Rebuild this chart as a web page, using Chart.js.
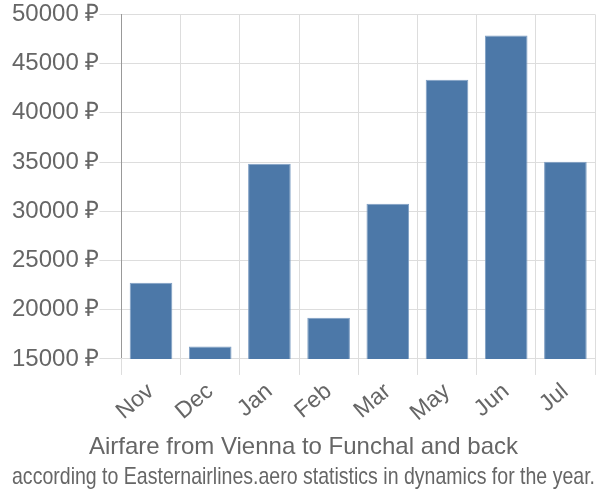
<!DOCTYPE html>
<html>
<head>
<meta charset="utf-8">
<script src="https://cdn.jsdelivr.net/npm/chart.js@4"></script>
<style>
  body { margin: 0; background: #fff; }
  #wrap { width: 600px; height: 500px; }
</style>
</head>
<body>
<div id="wrap"><canvas id="myChart"></canvas></div>
<script>
const months = ['Nov', 'Dec', 'Jan', 'Feb', 'Mar', 'May', 'Jun', 'Jul']
const prices = [22730, 16250, 34840, 19180, 30770, 43350, 47850, 35030]
const yTicks = [15000, 20000, 25000, 30000, 35000, 40000, 45000, 50000]
const titleLines = [
    'Airfare from Vienna to Funchal and back',
    'according to Easternairlines.aero statistics in dynamics for the year.'
]

const ctx = document.getElementById('myChart')

new Chart(ctx, {
    type: 'bar',
    data: {
        labels: months,
        datasets: [{
            data: prices,
            backgroundColor: '#4c78a8',
            borderColor: '#7f9fc4',
            borderWidth: 1
        }]
    },
    options: {
        responsive: true,
        maintainAspectRatio: false,
        animation: false,
        layout: { padding: { right: 5, top: 7, left: 12 } },
        plugins: {
            legend: { display: false },
            tooltip: { enabled: false },
            title: {
                display: true,
                position: 'bottom',
                text: titleLines,
                color: '#666',
                font: { family: 'Liberation Sans', size: 24, weight: 'normal', lineHeight: 1.25 },
                padding: { top: 2, bottom: 8 }
            }
        },
        scales: {
            y: {
                min: 15000,
                max: 50000,
                afterBuildTicks: axis => { axis.ticks = yTicks.map(v => ({ value: v })) },
                ticks: {
                    color: '#666',
                    font: { family: 'Liberation Sans', size: 24 },
                    padding: 0,
                    callback: v => v + ' ₽'
                },
                grid: { color: '#ddd', tickLength: 22 },
                border: { color: '#999' }
            },
            x: {
                ticks: {
                    color: '#666',
                    font: { family: 'Liberation Sans', size: 23 },
                    maxRotation: 40,
                    minRotation: 40
                },
                grid: { color: '#ddd', tickLength: 16 },
                border: { color: '#ddd' }
            }
        }
    }
})
</script>
</body>
</html>
